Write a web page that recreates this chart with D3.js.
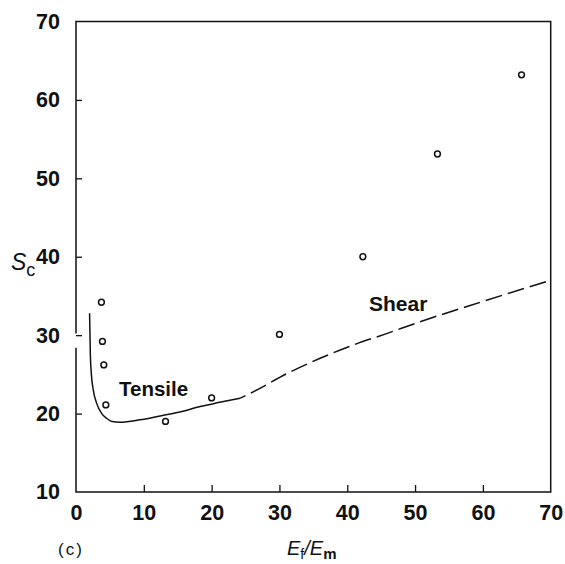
<!DOCTYPE html>
<html>
<head>
<meta charset="utf-8">
<script src="https://cdn.jsdelivr.net/npm/d3@7"></script>
<style>
  html, body { margin: 0; padding: 0; background: #fff; }
  svg { display: block; font-family: "Liberation Sans", Arial, sans-serif; }
  .tick text { font-weight: bold; font-size: 21.5px; fill: #111; }
  .tick line { stroke: #111; stroke-width: 1.3; }
</style>
</head>
<body>
<div id="chart"></div>
<script>
// ── DATA ─────────────────────────────────────
const xTicks = [0, 10, 20, 30, 40, 50, 60, 70];
const yTicks = [10, 20, 30, 40, 50, 60, 70];

// measured points (Ef/Em, Sc)
const pointX = [3.75, 3.9, 4.1, 4.4, 13.2, 20.0, 30.0, 42.3, 53.3, 65.7];
const pointY = [34.2, 29.2, 26.2, 21.1, 19.0, 22.0, 30.1, 40.0, 53.1, 63.2];

// tensile curve (solid)
const tensileX = [2.0, 2.06, 2.11, 2.26, 2.55, 3.05, 3.8, 4.5, 5.3, 6.5, 9.4, 12.4, 15.3, 18.3, 21.0, 24.2];
const tensileY = [32.8, 30.2, 27.7, 25.1, 23.0, 21.3, 20.0, 19.4, 19.0, 18.9, 19.2, 19.7, 20.2, 20.9, 21.4, 21.95];

// shear curve (dashed)
const shearX = [24.2, 26.2, 31.1, 36.0, 40.9, 45.8, 50.7, 60.0, 70.0];
const shearY = [21.95, 22.8, 25.1, 27.05, 28.75, 30.2, 31.7, 34.3, 37.0];

// ── SETUP ────────────────────────────────────
const W = 565, H = 564;
const x = d3.scaleLinear().domain([0, 70]).range([76, 550.7]);
const y = d3.scaleLinear().domain([10, 70]).range([492, 21.5]);

const svg = d3.select('#chart')
  .append('svg')
  .attr('width', W)
  .attr('height', H);

// ── AXES ─────────────────────────────────────
const gx = svg.append('g')
  .attr('transform', `translate(0,${y(10)})`)
  .call(d3.axisBottom(x).tickValues(xTicks).tickSizeInner(-7).tickSizeOuter(0).tickPadding(13));
gx.select('.domain').remove();
gx.selectAll('.tick').filter(d => d === 0 || d === 70).select('line').remove();

const gy = svg.append('g')
  .attr('transform', `translate(${x(0)},0)`)
  .call(d3.axisLeft(y).tickValues(yTicks).tickSizeInner(-6).tickSizeOuter(0).tickPadding(16));
gy.select('.domain').remove();
gy.selectAll('.tick').filter(d => d === 10 || d === 70).select('line').remove();

// ── FRAME (left side has a small break under 30) ──
const frame = svg.append('g')
  .attr('stroke', '#111')
  .attr('stroke-width', 1.5)
  .attr('fill', 'none');

const x0 = x(0), x1 = x(70), yTop = y(70), yBot = y(10);
frame.append('path').attr('d', `M${x0},${y(30.2)} V${yTop} H${x1} V${yBot} H${x0} V${y(28.4)}`);

// ── CURVES ───────────────────────────────────
const line = d3.line()
  .x(d => x(d[0]))
  .y(d => y(d[1]))
  .curve(d3.curveMonotoneX);

svg.append('path')
  .datum(tensileX.map((v, i) => [v, tensileY[i]]))
  .attr('d', line)
  .attr('fill', 'none')
  .attr('stroke', '#111')
  .attr('stroke-width', 1.5);

svg.append('path')
  .datum(shearX.map((v, i) => [v, shearY[i]]))
  .attr('d', line)
  .attr('fill', 'none')
  .attr('stroke', '#111')
  .attr('stroke-width', 1.5)
  .attr('stroke-dasharray', '17,6')
  .attr('stroke-dashoffset', -12);

// ── POINTS ───────────────────────────────────
svg.append('g')
  .selectAll('circle')
  .data(pointX.map((v, i) => [v, pointY[i]]))
  .enter()
  .append('circle')
  .attr('cx', d => x(d[0]))
  .attr('cy', d => y(d[1]))
  .attr('r', 2.9)
  .attr('fill', '#fff')
  .attr('stroke', '#111')
  .attr('stroke-width', 1.5);

// ── LABELS ───────────────────────────────────
svg.append('text')
  .attr('x', 119)
  .attr('y', 396)
  .attr('font-weight', 'bold')
  .attr('font-size', 20.5)
  .attr('fill', '#111')
  .text('Tensile');

svg.append('text')
  .attr('x', 369)
  .attr('y', 311)
  .attr('font-weight', 'bold')
  .attr('font-size', 21)
  .attr('fill', '#111')
  .text('Shear');

// y axis title Sc
const sc = svg.append('text')
  .attr('x', 11)
  .attr('y', 270)
  .attr('fill', '#111');
sc.append('tspan').attr('font-style', 'italic').attr('font-size', 23).text('S');
sc.append('tspan').attr('font-size', 18).attr('dy', 6).text('c');

// x axis title Ef/Em
const ef = svg.append('text')
  .attr('x', 287)
  .attr('y', 555)
  .attr('fill', '#111');
ef.append('tspan').attr('font-style', 'italic').attr('font-size', 20).text('E');
ef.append('tspan').attr('font-size', 14).attr('dy', 4).text('f');
ef.append('tspan').attr('font-style', 'italic').attr('font-size', 20).attr('dy', -4).text('/');
ef.append('tspan').attr('font-style', 'italic').attr('font-size', 20).text('E');
ef.append('tspan').attr('font-size', 15).attr('font-weight', 'bold').attr('dy', 4).text('m');

// panel tag
svg.append('text')
  .attr('x', 58)
  .attr('y', 555)
  .attr('font-size', 17)
  .attr('letter-spacing', 2)
  .attr('fill', '#111')
  .text('(c)');
</script>
</body>
</html>
